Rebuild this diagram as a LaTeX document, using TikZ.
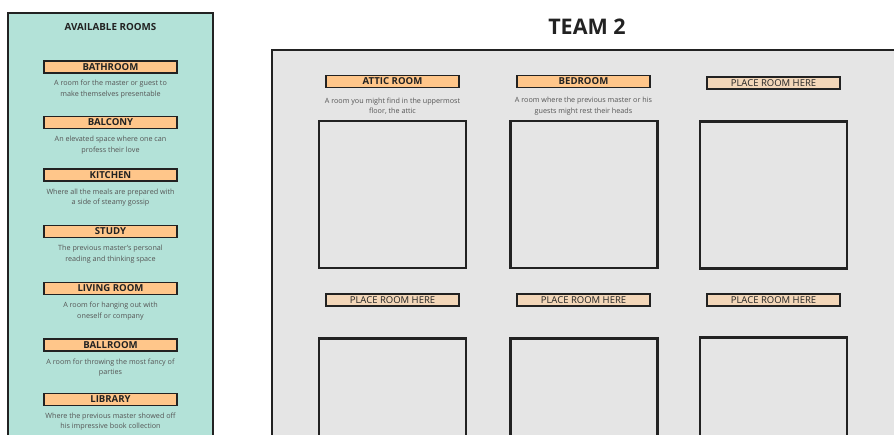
\documentclass[tikz,border=0pt]{standalone}
\usepackage{fontspec}
\setmainfont{Open Sans}
\definecolor{mint}{HTML}{B3E2D8}
\definecolor{peach}{HTML}{FFC68A}
\definecolor{lightpeach}{HTML}{F3D7B9}
\definecolor{panelgray}{HTML}{E5E5E5}
\definecolor{edge}{HTML}{222222}
\definecolor{desc}{HTML}{555555}
\begin{document}
\begin{tikzpicture}[x=1pt,y=-1pt,
  labelbox/.style={draw=edge,line width=1.8pt,fill=peach,minimum width=133pt,minimum height=12pt,inner sep=0pt,font=\bfseries\fontsize{9.6}{9.6}\selectfont,text=edge},
  placebox/.style={labelbox,fill=lightpeach,font=\fontsize{9.5}{9.5}\selectfont},
  desctext/.style={align=center,text=desc,font=\fontsize{7.2}{10.5}\selectfont,inner sep=0pt},
  roombox/.style={draw=edge,line width=2.2pt,minimum width=147pt,minimum height=147pt,inner sep=0pt},
  paneltitle/.style={font=\bfseries\fontsize{9.8}{10}\selectfont,text=edge}]
\useasboundingbox (0,0) rectangle (894,434);
\clip (0,0) rectangle (894,434);
% left panel
\draw[draw=edge,line width=2pt,fill=mint] (8,12.5) rectangle (213,460);
\node[paneltitle] (availtitle) at (110.5,27) {AVAILABLE ROOMS};
\node[labelbox] (bath) at (110.5,67) {BATHROOM};
\node[desctext] (bathd) at (110.5,89) {A room for the master or guest to\\make themselves presentable};
\node[labelbox] (balc) at (110.5,122.5) {BALCONY};
\node[desctext] (balcd) at (110.5,145) {An elevated space where one can\\profess their love};
\node[labelbox] (kitch) at (110.5,175) {KITCHEN};
\node[desctext] (kitchd) at (110.5,197.5) {Where all the meals are prepared with\\a side of steamy gossip};
\node[labelbox] (study) at (110.5,231.5) {STUDY};
\node[desctext] (studyd) at (110.5,254) {The previous master's personal\\reading and thinking space};
\node[labelbox] (living) at (110.5,288.5) {LIVING ROOM};
\node[desctext] (livingd) at (110.5,311) {A room for hanging out with\\oneself or company};
\node[labelbox] (ball) at (110.5,345) {BALLROOM};
\node[desctext] (balld) at (110.5,367.5) {A room for throwing the most fancy of\\parties};
\node[labelbox] (lib) at (110.5,399.5) {LIBRARY};
\node[desctext] (libd) at (110.5,421.5) {Where the previous master showed off\\his impressive book collection};
% team panel
\node[font=\bfseries\fontsize{21.5}{22}\selectfont,text=edge] (team) at (587,27) {TEAM 2};
\draw[draw=edge,line width=2pt,fill=panelgray] (272,50) rectangle (920,460);
\node[labelbox] (attic) at (392.5,81.5) {ATTIC ROOM};
\node[desctext] (atticd) at (392.5,106) {A room you might find in the uppermost\\floor, the attic};
\node[labelbox] (bed) at (583.5,81.5) {BEDROOM};
\node[desctext] (bedd) at (583.5,106) {A room where the previous master or his\\guests might rest their heads};
\node[placebox] (p1) at (773.5,83) {PLACE ROOM HERE};
\node[roombox] (s1) at (392.5,194.5) {};
\node[roombox] (s2) at (584,194.5) {};
\node[roombox] (s3) at (773.5,195) {};
\node[placebox] (p2) at (392.5,300) {PLACE ROOM HERE};
\node[placebox] (p3) at (583.5,300) {PLACE ROOM HERE};
\node[placebox] (p4) at (773.5,300) {PLACE ROOM HERE};
\node[roombox] (s4) at (392.5,412) {};
\node[roombox] (s5) at (584,412) {};
\node[roombox] (s6) at (773.5,411) {};
\end{tikzpicture}
\end{document}
